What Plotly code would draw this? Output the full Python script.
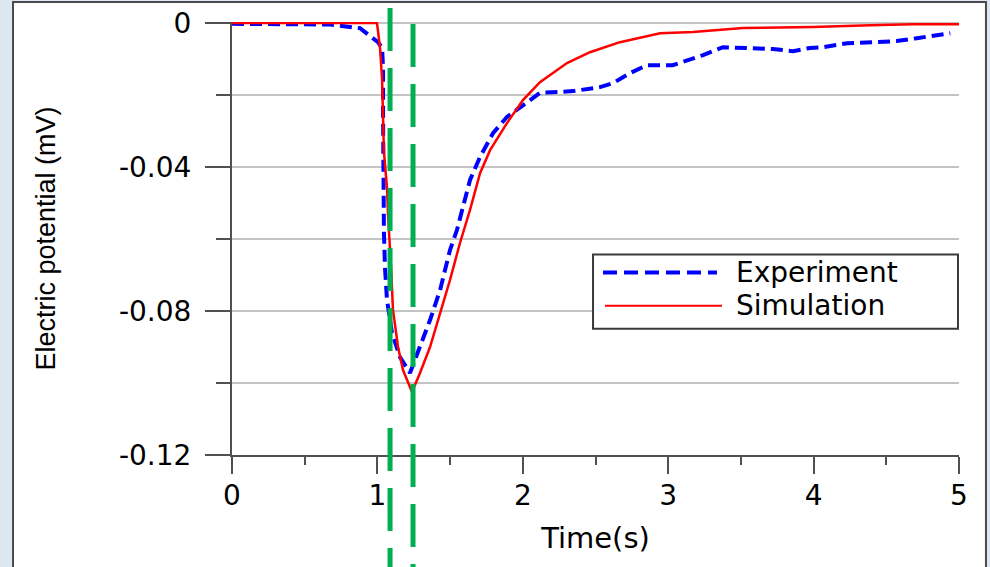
import plotly.graph_objects as go

# ---- data ----
exp_t = [0.0, 0.674, 0.88, 0.963, 1.004, 1.032, 1.039, 1.039, 1.039, 1.04, 1.045,
         1.052, 1.066, 1.10, 1.155, 1.224, 1.293, 1.362, 1.431, 1.499, 1.547,
         1.602, 1.637, 1.706, 1.795, 1.891, 1.98, 2.118, 2.345, 2.531, 2.62,
         2.737, 2.854, 3.03, 3.10, 3.24, 3.377, 3.56, 3.72, 3.858, 3.975,
         4.065, 4.23, 4.41, 4.57, 4.71, 4.89, 4.94]
exp_v = [-0.0002, -0.0004, -0.0014, -0.0039, -0.0053, -0.0069, -0.0125, -0.0256,
         -0.0394, -0.0492, -0.0583, -0.0678, -0.0769, -0.0860, -0.0928, -0.0972,
         -0.0900, -0.0825, -0.0742, -0.0631, -0.0575, -0.0492, -0.0436, -0.0372,
         -0.0306, -0.0261, -0.0236, -0.0194, -0.0189, -0.0178, -0.0167, -0.0139,
         -0.0117, -0.0117, -0.0108, -0.0089, -0.0067, -0.0069, -0.0072, -0.0078,
         -0.0069, -0.0067, -0.0056, -0.0053, -0.0050, -0.0042, -0.0031, -0.0028]

sim_t = [0.0, 0.997, 1.004, 1.018, 1.032, 1.039, 1.045, 1.066, 1.073, 1.094,
         1.107, 1.142, 1.176, 1.238, 1.293, 1.362, 1.431, 1.499, 1.568, 1.637,
         1.706, 1.775, 1.891, 2.001, 2.118, 2.304, 2.462, 2.668, 2.944, 3.17,
         3.514, 3.996, 4.39, 4.68, 5.0]
sim_v = [0.0, 0.0, -0.0022, -0.0069, -0.0153, -0.0256, -0.0358, -0.0458, -0.0533,
         -0.0678, -0.0797, -0.0900, -0.0964, -0.1025, -0.0972, -0.0900, -0.0806,
         -0.0714, -0.0611, -0.0519, -0.0417, -0.0353, -0.0278, -0.0214, -0.0164,
         -0.0111, -0.0081, -0.0053, -0.0028, -0.0025, -0.0014, -0.0011, -0.0006,
         -0.0003, -0.0003]

marker_times = [1.087, 1.245]          # green dashed reference lines
marker_tops = [1.0324, 0.9954]         # paper-y where each dashed line starts

series_names = ["Experiment", "Simulation"]
x_tickvals = [0, 1, 2, 3, 4, 5]
y_tickvals = [0, -0.04, -0.08, -0.12]
y_ticktext = ["0", "-0.04", "-0.08", "-0.12"]

BLUE = "#0000ff"
RED = "#ff0000"
GREEN = "#00b050"
AXIS = "#505050"
GRID = "#c4c4c4"
TXT_FONT = "DejaVu Sans"

fig = go.Figure()
fig.add_trace(go.Scatter(x=exp_t, y=exp_v, mode="lines", name=series_names[0],
                         line=dict(color=BLUE, width=4, dash="12px,6px"),
                         showlegend=False))
fig.add_trace(go.Scatter(x=sim_t, y=sim_v, mode="lines", name=series_names[1],
                         line=dict(color=RED, width=2.5), showlegend=False))

shapes = []
# white panel with dark frame behind the chart
shapes.append(dict(type="rect", xref="paper", yref="paper",
                   x0=-0.3012, x1=1.0371, y0=-0.40, y1=1.0463,
                   fillcolor="white", line=dict(color="#4a4a4a", width=2),
                   layer="below"))
# green dashed vertical reference lines
for t, top in zip(marker_times, marker_tops):
    shapes.append(dict(type="line", xref="x", yref="paper", x0=t, x1=t,
                       y0=top, y1=-0.40,
                       line=dict(color=GREEN, width=5, dash="43px,17px"),
                       layer="above"))
# manual legend
shapes.append(dict(type="rect", xref="paper", yref="paper",
                   x0=0.4966, x1=0.9986, y0=0.2917, y1=0.4630,
                   fillcolor="white", line=dict(color="#3a3a3a", width=2),
                   layer="above"))
shapes.append(dict(type="line", xref="paper", yref="paper",
                   x0=0.5103, x1=0.6671, y0=0.4213, y1=0.4213,
                   line=dict(color=BLUE, width=4, dash="14px,7px"), layer="above"))
shapes.append(dict(type="line", xref="paper", yref="paper",
                   x0=0.5131, x1=0.6740, y0=0.3449, y1=0.3449,
                   line=dict(color=RED, width=2), layer="above"))

annotations = [
    dict(text=series_names[0], xref="paper", yref="paper", x=0.6905, y=0.4213,
         xanchor="left", yanchor="middle", showarrow=False,
         font=dict(family=TXT_FONT, size=28, color="black")),
    dict(text=series_names[1], xref="paper", yref="paper", x=0.6905, y=0.3449,
         xanchor="left", yanchor="middle", showarrow=False,
         font=dict(family=TXT_FONT, size=28, color="black")),
]

fig.update_layout(
    width=990, height=567,
    margin=dict(l=232, r=31, t=22, b=112),
    paper_bgcolor="#dde7f2",
    plot_bgcolor="white",
    shapes=shapes,
    annotations=annotations,
    showlegend=False,
)

fig.update_xaxes(
    range=[0, 5], tickvals=x_tickvals, automargin=False,
    showline=True, linecolor=AXIS, linewidth=2,
    ticks="outside", ticklen=17, tickwidth=2, tickcolor=AXIS,
    minor=dict(dtick=0.5, ticks="outside", ticklen=8, tickwidth=2,
               tickcolor=AXIS, showgrid=False),
    showgrid=False, zeroline=False,
    tickfont=dict(family=TXT_FONT, size=28, color="black"),
    ticklabelstandoff=-3,
    title=dict(text="Time(s)", font=dict(family=TXT_FONT, size=29, color="black"),
               standoff=17),
)
fig.update_yaxes(
    range=[-0.12, 0.0003], tickvals=y_tickvals, ticktext=y_ticktext,
    automargin=False,
    showline=True, linecolor=AXIS, linewidth=2,
    ticks="outside", ticklen=25, tickwidth=2, tickcolor=AXIS,
    minor=dict(tickvals=[-0.02, -0.06, -0.10], ticks="outside", ticklen=14,
               tickwidth=2, tickcolor=AXIS, showgrid=True, gridcolor=GRID,
               gridwidth=1.5),
    showgrid=True, gridcolor=GRID, gridwidth=1.5, zeroline=False,
    tickfont=dict(family=TXT_FONT, size=28, color="black"),
    ticklabelstandoff=8,
    title=dict(text="Electric potential (mV)",
               font=dict(family="Liberation Sans", size=27, color="black"),
               standoff=55),
)

fig.write_html("out.html")
